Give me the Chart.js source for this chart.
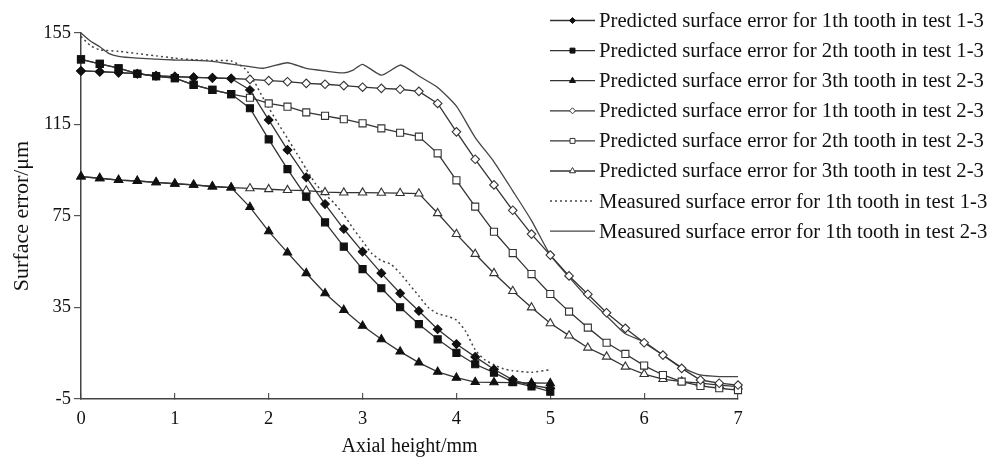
<!DOCTYPE html>
<html>
<head>
<meta charset="utf-8">
<script src="https://cdn.jsdelivr.net/npm/chart.js@4.4.1/dist/chart.umd.min.js"></script>
<style>
html,body{margin:0;padding:0;background:#fff;}
#wrap{width:1002px;height:459px;position:relative;}
canvas{display:block;}
</style>
</head>
<body>
<div id="wrap"><canvas id="c" width="1002" height="459"></canvas></div>
<script>
// ---- data ----
const xPred13 = [0,0.2,0.4,0.6,0.8,1,1.2,1.4,1.6,1.8,2,2.2,2.4,2.6,2.8,3,3.2,3.4,3.6,3.8,4,4.2,4.4,4.6,4.8,5];
const xPred23 = [0,0.2,0.4,0.6,0.8,1,1.2,1.4,1.6,1.8,2,2.2,2.4,2.6,2.8,3,3.2,3.4,3.6,3.8,4,4.2,4.4,4.6,4.8,5,5.2,5.4,5.6,5.8,6,6.2,6.4,6.6,6.8,7];

const pred1Test13 = [138.4,138.1,137.7,137.2,136.3,135.9,135.6,135.4,135.1,130.1,117.0,103.9,91.9,80.2,69.3,59.4,50.0,41.2,33.5,25.5,19.0,13.4,8.0,3.4,1.0,-0.3];
const pred2Test13 = [143.5,141.5,139.6,137.2,136.1,135.3,132.3,130.1,128.3,122.1,108.5,95.5,83.4,72.2,61.6,51.8,43.4,35.1,27.7,21.1,15.2,10.2,6.5,2.4,0.5,-1.8];
const pred3Test23a = [92.2,91.5,90.7,90.3,89.7,89.1,88.6,87.9,87.4,78.9,68.3,59.0,50.0,41.2,33.9,27.0,21.1,15.7,10.9,6.9,4.3,2.4,2.3,2.2,2.0,1.9];

const pred1Test23 = [138.4,138.1,137.7,137.2,136.3,135.9,135.6,135.4,135.1,134.7,134.2,133.7,133.0,132.6,132.0,131.3,130.8,130.4,129.5,124.2,111.8,99.8,88.6,77.5,67.1,57.9,48.8,40.8,32.7,25.9,19.6,14.2,8.4,3.3,1.9,1.1];
const pred2Test23 = [143.5,141.5,139.6,137.2,136.1,135.3,132.3,130.1,128.3,126.7,124.2,122.8,120.3,118.8,117.3,115.5,113.3,111.4,109.7,102.4,90.6,79.1,68.1,58.8,49.6,40.9,33.2,26.2,19.6,14.7,9.6,5.5,2.6,0.7,-0.3,-1.1];
const pred3Test23b = [92.2,91.5,90.7,90.3,89.7,89.1,88.6,87.9,87.4,87.1,86.7,86.3,86.1,85.4,85.2,85.2,85.1,85.0,84.8,76.2,67.1,58.4,50.0,42.2,35.0,28.1,22.7,17.4,13.5,9.1,5.9,3.7,2.6,1.9,1.1,0.4];

const xMeas13 = [0,0.1,0.2,0.4,0.6,0.8,1,1.2,1.4,1.6,1.75,1.85,1.95,2.1,2.2,2.3,2.4,2.5,2.6,2.7,2.8,2.9,3,3.1,3.2,3.3,3.4,3.5,3.6,3.7,3.8,3.9,4,4.1,4.2,4.3,4.4,4.5,4.6,4.8,5];
const meas1Test13 = [153.5,149.5,147.7,147.0,146.0,145.0,144.0,143.3,143.0,142.8,139.3,133.5,125.8,115.5,108.9,102.3,95.5,89.0,84.5,80.5,75.5,69.5,64.0,58.5,55.5,54.0,50.0,45.0,40.0,35.0,32.3,31.2,29.5,24.5,16.5,12.2,10.0,8.2,7.4,6.7,7.8];

const xMeas23 = [0,0.1,0.2,0.3,0.4,0.6,0.8,1,1.2,1.4,1.6,1.8,1.95,2.2,2.4,2.6,2.8,2.9,3,3.2,3.4,3.5,3.6,3.8,4,4.2,4.4,4.6,4.8,5,5.2,5.4,5.6,5.8,6,6.2,6.4,6.6,6.8,7];
const meas1Test23 = [155.0,151.5,149.0,146.0,144.8,144.0,143.6,143.2,143.0,142.6,141.4,140.3,139.6,142.0,139.5,138.4,137.6,138.8,141.3,136.6,141.0,139.0,136.2,131.2,123.0,109.3,98.7,86.0,73.0,58.0,48.3,39.2,31.3,23.5,20.0,14.2,8.8,5.5,4.8,4.8];

const seriesLabels = [
  'Predicted surface error for 1th tooth in test 1-3',
  'Predicted surface error for 2th tooth in test 1-3',
  'Predicted surface error for 3th tooth in test 2-3',
  'Predicted surface error for 1th tooth in test 2-3',
  'Predicted surface error for 2th tooth in test 2-3',
  'Predicted surface error for 3th tooth in test 2-3',
  'Measured surface error for 1th tooth in test 1-3',
  'Measured surface error for 1th tooth in test 2-3'
];
const yTicks = [-5,35,75,115,155];
const xTicks = [0,1,2,3,4,5,6,7];
const xTitle = 'Axial height/mm';
const yTitle = 'Surface error/\u03bcm';

// ---- build ----
function pts(xs, ys){ return xs.map((x,i)=>({x:x, y:ys[i]})); }
const LINE = '#333';
const SERIF = '"Liberation Serif","Times New Roman",serif';

function predSet(label, xs, ys, style, filled, r, lr){
  return {
    label: label, data: pts(xs, ys),
    borderColor: LINE, borderWidth: 1.3, tension: 0,
    pointStyle: style, pointRadius: r, pointHoverRadius: r,
    pointBackgroundColor: filled ? '#111' : '#fff',
    pointBorderColor: filled ? '#111' : '#333',
    pointBorderWidth: 1.1, legendRadius: lr, clip: false
  };
}

const datasets = [
  predSet(seriesLabels[0], xPred13, pred1Test13, 'rectRot', true, 4.3, 3),
  predSet(seriesLabels[1], xPred13, pred2Test13, 'rect', true, 5, 3.5),
  predSet(seriesLabels[2], xPred13, pred3Test23a, 'triangle', true, 4.8, 3.5),
  predSet(seriesLabels[3], xPred23, pred1Test23, 'rectRot', false, 4.3, 3),
  predSet(seriesLabels[4], xPred23, pred2Test23, 'rect', false, 5, 3.5),
  predSet(seriesLabels[5], xPred23, pred3Test23b, 'triangle', false, 4.8, 3.5),
  { label: seriesLabels[6], data: pts(xMeas13, meas1Test13), borderColor: '#444', borderWidth: 1.5,
    borderDash: [2,3], pointRadius: 0, tension: 0.2, clip: false },
  { label: seriesLabels[7], data: pts(xMeas23, meas1Test23), borderColor: '#444', borderWidth: 1.3,
    pointRadius: 0, tension: 0.2, clip: false }
];

function marker(ctx, style, x, y, r){
  ctx.beginPath();
  if (style === 'rectRot'){
    ctx.moveTo(x, y - r); ctx.lineTo(x + r, y); ctx.lineTo(x, y + r); ctx.lineTo(x - r, y);
  } else if (style === 'rect'){
    const s = r * Math.SQRT1_2;
    ctx.rect(x - s, y - s, 2*s, 2*s);
  } else if (style === 'triangle'){
    ctx.moveTo(x, y - r);
    ctx.lineTo(x + r*Math.sin(2*Math.PI/3), y - r*Math.cos(2*Math.PI/3));
    ctx.lineTo(x + r*Math.sin(4*Math.PI/3), y - r*Math.cos(4*Math.PI/3));
  }
  ctx.closePath();
  ctx.fill(); ctx.stroke();
}

const sideLegend = {
  id: 'sideLegend',
  afterDraw(chart){
    const ctx = chart.ctx;
    const x0 = 550, x1 = 595, tx = 599, top = 20.5, step = 30.1;
    chart.data.datasets.forEach((ds, i) => {
      const y = top + i*step;
      ctx.save();
      ctx.strokeStyle = ds.borderColor; ctx.lineWidth = ds.borderWidth;
      ctx.setLineDash(ds.borderDash || []);
      ctx.beginPath(); ctx.moveTo(x0, y); ctx.lineTo(x1, y); ctx.stroke();
      ctx.setLineDash([]);
      if (ds.pointRadius > 0){
        ctx.fillStyle = ds.pointBackgroundColor; ctx.strokeStyle = ds.pointBorderColor; ctx.lineWidth = 1;
        marker(ctx, ds.pointStyle, (x0 + x1)/2, y, ds.legendRadius);
      }
      ctx.fillStyle = '#111';
      ctx.font = '20.7px ' + SERIF;
      ctx.textBaseline = 'middle'; ctx.textAlign = 'left';
      ctx.fillText(ds.label, tx, y + 1);
      ctx.restore();
    });
  }
};

new Chart(document.getElementById('c'), {
  type: 'line',
  data: { datasets: datasets },
  plugins: [sideLegend],
  options: {
    responsive: false, animation: false, devicePixelRatio: 1,
    layout: { padding: { left: 0, top: 33, right: 264, bottom: 0 } },
    plugins: { legend: { display: false }, tooltip: { enabled: false } },
    scales: {
      x: {
        type: 'linear', min: 0, max: 7,
        afterBuildTicks: s => { s.ticks = xTicks.map(v => ({ value: v })); },
        afterFit: s => { s.height = 60; },
        ticks: { font: { family: SERIF, size: 18.5 }, color: '#111', padding: 15, maxRotation: 0 },
        grid: { drawOnChartArea: false, drawTicks: true, tickLength: -6, color: '#555', lineWidth: 1.2 },
        border: { display: true, color: '#444', width: 1.5 },
        title: { display: true, text: xTitle, font: { family: SERIF, size: 20 }, color: '#111', padding: { top: 0, bottom: 0 } }
      },
      y: {
        type: 'linear', min: -5, max: 155,
        afterBuildTicks: s => { s.ticks = yTicks.map(v => ({ value: v })); },
        afterFit: s => { s.width = 81; },
        ticks: { font: { family: SERIF, size: 18.5 }, color: '#111', padding: 3 },
        grid: { drawOnChartArea: false, drawTicks: true, tickLength: 7, color: '#555', lineWidth: 1.2 },
        border: { display: true, color: '#444', width: 1.5 },
        title: { display: true, text: yTitle, font: { family: SERIF, size: 22 }, color: '#111', padding: { top: 9, bottom: 0 } }
      }
    }
  }
});
</script>
</body>
</html>
